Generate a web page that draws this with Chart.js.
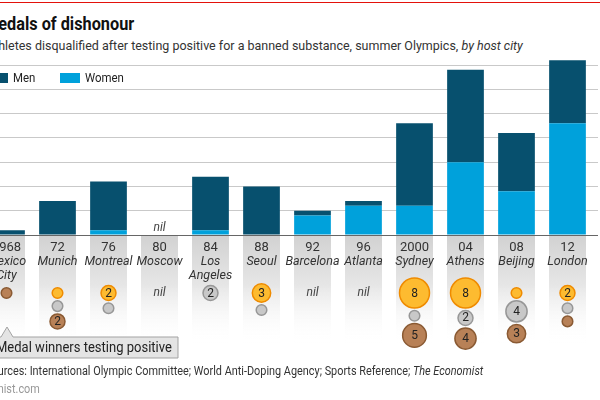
<!DOCTYPE html>
<html>
<head>
<meta charset="utf-8">
<script src="https://cdn.jsdelivr.net/npm/chart.js@4.4.1/dist/chart.umd.min.js"></script>
<style>
  html, body { margin: 0; padding: 0; background: #fff; }
  body { width: 600px; height: 400px; overflow: hidden; position: relative; font-family: "Roboto", sans-serif; color: #222; }
  #wrap { position: absolute; left: -19px; top: 0; width: 660px; height: 400px; }
  .txt { position: absolute; white-space: nowrap; transform-origin: 0 50%; }
  #redline { position: absolute; left: 0; top: 2px; width: 600px; height: 1px; background: #e3120b; }
  #title { left: -16px; top: 13px; font-size: 18.5px; font-weight: bold; color: #111; transform: scaleX(0.88); }
  #subtitle { left: -14px; top: 37px; font-size: 13.5px; color: #333; transform: scaleX(0.925); }
  .key { position: absolute; top: 73px; width: 20px; height: 10px; }
  .keylbl { top: 70px; font-size: 13px; color: #222; transform: scaleX(0.88); }
  #source { left: -15px; top: 363px; font-size: 12.5px; color: #333; transform: scaleX(0.87); }
  #site { left: -36px; top: 381px; font-size: 12.5px; color: #999; transform: scaleX(0.87); }
  #callout { position: absolute; left: 0; top: 0; }
  #calloutTxt { left: -4px; top: 339px; font-size: 14px; color: #222; transform: scaleX(0.93); }
</style>
</head>
<body>
<div id="redline"></div>
<div class="txt" id="title">Medals of dishonour</div>
<div class="txt" id="subtitle">Athletes disqualified after testing positive for a banned substance, summer Olympics, <i>by host city</i></div>

<div id="wrap"><canvas id="chart"></canvas></div>

<div class="key" style="left:-12px;background:#07506e"></div>
<div class="txt keylbl" style="left:13px">Men</div>
<div class="key" style="left:60px;background:#00a1db"></div>
<div class="txt keylbl" style="left:85px">Women</div>

<svg id="callout" width="600" height="400">
  <path d="M-5,337 L1,337 L7,327 L13,337 L178,337 L178,358 L-5,358 Z" fill="#e4e4e4" stroke="#a3a3a3" stroke-width="1"/>
</svg>
<div class="txt" id="calloutTxt">Medal winners testing positive</div>

<div class="txt" id="source">Sources: International Olympic Committee; World Anti-Doping Agency; Sports Reference; <i>The Economist</i></div>
<div class="txt" id="site">Economist.com</div>

<script>
const years = ["1968", "72", "76", "80", "84", "88", "92", "96", "2000", "04", "08", "12"];
const cities = [["Mexico", "City"], ["Munich"], ["Montreal"], ["Moscow"], ["Los", "Angeles"], ["Seoul"],
  ["Barcelona"], ["Atlanta"], ["Sydney"], ["Athens"], ["Beijing"], ["London"]];
const men = [1, 7, 10, 0, 11, 10, 1, 1, 17, 19, 12, 13];
const women = [0, 0, 1, 0, 1, 0, 4, 6, 6, 15, 9, 23];
const gold = [0, 1, 2, 0, 0, 3, 0, 0, 8, 8, 1, 2];
const silver = [0, 1, 1, 0, 2, 1, 0, 0, 1, 2, 4, 1];
const bronze = [1, 2, 0, 0, 0, 0, 0, 0, 5, 4, 3, 1];
const yTicks = [0, 5, 10, 15, 20, 25, 30, 35];

const MEN_COL = "#07506e";
const WOMEN_COL = "#00a1db";
const medalStyle = [
  { fill: "#fdbb30", stroke: "#ef8b00" },
  { fill: "#c8c8c8", stroke: "#979797" },
  { fill: "#b88157", stroke: "#8a5a33" }
];

/* column backgrounds, labels, medals */
const extras = {
  id: "extras",
  beforeDatasetsDraw(chart) {
    const ctx = chart.ctx;
    const x = chart.scales.x;
    const base = chart.scales.y.getPixelForValue(0);
    const step = x.getPixelForValue(1) - x.getPixelForValue(0);
    const bw = step * 0.725;
    ctx.save();
    years.forEach((y, i) => {
      const cx = x.getPixelForValue(i);
      const g = ctx.createLinearGradient(0, base + 1, 0, base + 110);
      g.addColorStop(0, "#d2d2d2");
      g.addColorStop(0.45, "#e6e6e6");
      g.addColorStop(1, "rgba(255,255,255,0)");
      ctx.fillStyle = g;
      ctx.fillRect(cx - bw / 2, base + 1, bw, 110);
    });
    ctx.restore();
  },
  afterDraw(chart) {
    const ctx = chart.ctx;
    const x = chart.scales.x;
    const base = chart.scales.y.getPixelForValue(0);
    ctx.save();
    ctx.textAlign = "center";
    ctx.textBaseline = "middle";
    years.forEach((y, i) => {
      const cx = x.getPixelForValue(i);
      ctx.fillStyle = "#333";
      ctx.font = "13px Roboto";
      ctx.fillText(y, cx, base + 12.5);
      ctx.font = "italic 12.5px Roboto";
      cities[i].forEach((c, k) => ctx.fillText(c, cx, base + 27 + k * 13.5));

      const counts = [gold[i], silver[i], bronze[i]];
      if (counts.every(n => n === 0)) {
        ctx.fillStyle = "#444";
        ctx.font = "italic 12px Roboto";
        ctx.fillText("nil", cx, base + 58);
        if (men[i] + women[i] === 0) ctx.fillText("nil", cx, base - 7);
        return;
      }
      let cy = null, prevR = 0;
      counts.forEach((n, k) => {
        if (!n) return;
        const r = 5.3 * Math.sqrt(n);
        cy = cy === null ? base + 58 : cy + prevR + 2.5 + r;
        prevR = r;
        ctx.beginPath();
        ctx.arc(cx, cy, r, 0, Math.PI * 2);
        ctx.fillStyle = medalStyle[k].fill;
        ctx.fill();
        ctx.lineWidth = 1.5;
        ctx.strokeStyle = medalStyle[k].stroke;
        ctx.stroke();
        if (n > 1) {
          ctx.fillStyle = "#222";
          ctx.font = "12px Roboto";
          ctx.fillText(String(n), cx, cy + 0.5);
        }
      });
    });
    ctx.restore();
  }
};

new Chart(document.getElementById("chart"), {
  type: "bar",
  data: {
    labels: years,
    datasets: [
      { label: "Women", data: women, backgroundColor: WOMEN_COL, clip: false },
      { label: "Men", data: men, backgroundColor: MEN_COL, clip: false }
    ]
  },
  options: {
    responsive: true,
    maintainAspectRatio: false,
    animation: false,
    layout: { padding: { left: 0, top: 65, bottom: 165, right: 0 } },
    plugins: { legend: { display: false }, tooltip: { enabled: false } },
    scales: {
      x: {
        stacked: true,
        display: false,
        categoryPercentage: 0.725,
        barPercentage: 1
      },
      y: {
        stacked: true,
        position: "right",
        min: 0,
        max: 35,
        afterBuildTicks: axis => { axis.ticks = yTicks.map(v => ({ value: v })); },
        afterFit: axis => { axis.width = 48; },
        border: { display: false },
        grid: {
          color: ctx => ctx.tick && ctx.tick.value === 0 ? "#666" : "#c9c9c9",
          lineWidth: 1,
          tickLength: 5
        },
        ticks: { color: "#333", font: { family: "Roboto", size: 12 }, padding: 4 }
      }
    }
  },
  plugins: [extras]
});
</script>
</body>
</html>
